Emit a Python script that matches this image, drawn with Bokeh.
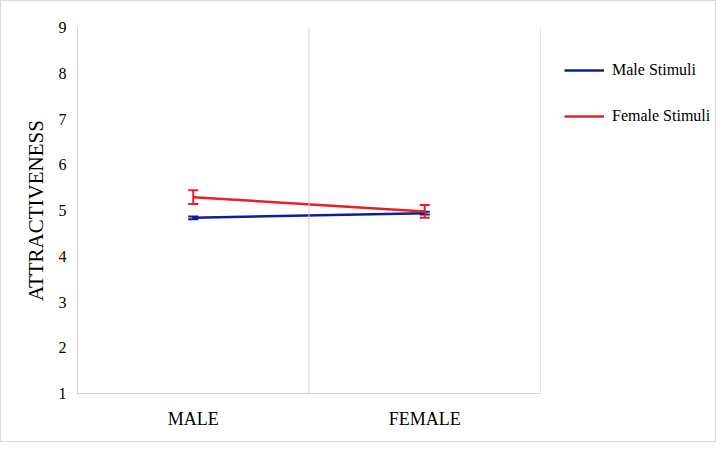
from bokeh.plotting import figure
from bokeh.layouts import row
from bokeh.models import (FactorRange, Range1d, ColumnDataSource, Whisker, TeeHead,
                          Span, Legend, LegendItem, FixedTicker)
from bokeh.embed import file_html
from bokeh.resources import INLINE

categories = ["MALE", "FEMALE"]
male_stimuli = [4.84, 4.94]
male_err = [0.03, 0.03]
female_stimuli = [5.29, 4.98]
female_err = [0.15, 0.14]
y_ticks = [1, 2, 3, 4, 5, 6, 7, 8, 9]
series_names = ["Male Stimuli", "Female Stimuli"]

BLUE = "#0b1f96"
RED = "#ee1c24"
GRID = "#d0d0d0"
FONT = "Liberation Serif"

p = figure(x_range=FactorRange(*categories, range_padding=0),
           y_range=Range1d(1, 9),
           frame_width=463, frame_height=366,
           output_backend="svg", toolbar_location=None,
           min_border_left=76, min_border_right=1, min_border_top=26,
           min_border_bottom=48)
p.outline_line_color = None
p.xgrid.grid_line_color = None
p.ygrid.grid_line_color = None

# category boundary lines
for loc in [0, 1, 2]:
    p.add_layout(Span(location=loc, dimension="height", line_color=GRID, line_width=1))

src_m = ColumnDataSource(dict(x=categories, y=male_stimuli,
                              lo=[v - e for v, e in zip(male_stimuli, male_err)],
                              hi=[v + e for v, e in zip(male_stimuli, male_err)]))
src_f = ColumnDataSource(dict(x=categories, y=female_stimuli,
                              lo=[v - e for v, e in zip(female_stimuli, female_err)],
                              hi=[v + e for v, e in zip(female_stimuli, female_err)]))

p.line("x", "y", source=src_m, line_color=BLUE, line_width=2.5)
p.line("x", "y", source=src_f, line_color=RED, line_width=2.5)

for src, col in [(src_m, BLUE), (src_f, RED)]:
    w = Whisker(source=src, base="x", lower="lo", upper="hi",
                line_color=col, line_width=2,
                upper_head=TeeHead(size=10, line_color=col, line_width=2),
                lower_head=TeeHead(size=10, line_color=col, line_width=2))
    p.add_layout(w)

p.yaxis.ticker = FixedTicker(ticks=y_ticks)
p.yaxis.axis_label = "ATTRACTIVENESS"
p.yaxis.axis_label_text_font = FONT
p.yaxis.axis_label_text_font_style = "normal"
p.yaxis.axis_label_text_font_size = "21px"
p.yaxis.axis_label_text_color = "#000000"
p.yaxis.axis_label_standoff = 8

for ax in (p.xaxis, p.yaxis):
    ax.axis_line_color = GRID
    ax.major_tick_line_color = None
    ax.minor_tick_line_color = None
    ax.major_tick_out = 0
    ax.minor_tick_out = 0
    ax.major_label_text_font = FONT
    ax.major_label_text_color = "#000000"
p.yaxis.major_label_text_font_size = "16px"
p.yaxis.major_label_standoff = 11
p.xaxis.major_label_text_font_size = "18px"
p.xaxis.major_label_standoff = 15

# legend panel (separate figure so the legend is not clipped by the main frame);
# its line renderers use the same data but lie outside its (hidden) y range
lg = figure(width=174, height=440, x_range=FactorRange(*categories),
            y_range=Range1d(100, 101),
            x_axis_location=None, y_axis_location=None,
            output_backend="svg", toolbar_location=None,
            min_border=0, min_border_left=0, min_border_right=0,
            min_border_top=0, min_border_bottom=0)
lg.outline_line_color = None
lg.xgrid.grid_line_color = None
lg.ygrid.grid_line_color = None
lr_m = lg.line("x", "y", source=src_m, line_color=BLUE, line_width=2.5)
lr_f = lg.line("x", "y", source=src_f, line_color=RED, line_width=2.5)

legend = Legend(items=[LegendItem(label=series_names[0], renderers=[lr_m]),
                       LegendItem(label=series_names[1], renderers=[lr_f])],
                location=(23, 267), orientation="vertical")
legend.label_text_font = FONT
legend.label_text_font_size = "16px"
legend.label_text_color = "#000000"
legend.glyph_width = 40
legend.glyph_height = 20
legend.label_height = 20
legend.spacing = 26
legend.border_line_color = None
legend.background_fill_alpha = 0
legend.margin = 0
legend.padding = 0
legend.label_standoff = 8
lg.add_layout(legend)

layout = row(p, lg, spacing=0)
layout.styles = {"border": "1px solid #d9d9d9"}

open("out.html", "w").write(file_html(layout, INLINE))
